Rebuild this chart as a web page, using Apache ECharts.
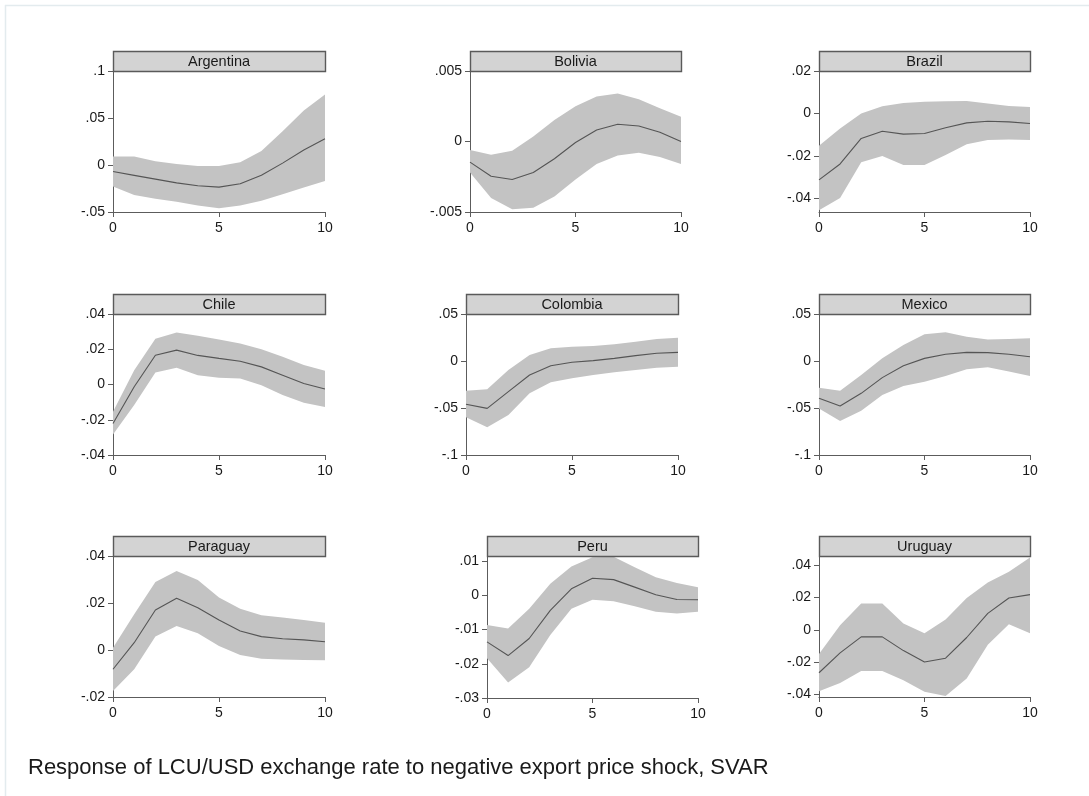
<!DOCTYPE html>
<html>
<head>
<meta charset="utf-8">
<title>Response of LCU/USD exchange rate to negative export price shock, SVAR</title>
<script src="https://cdn.jsdelivr.net/npm/echarts@6.0.0/dist/echarts.min.js"></script>
<style>
  html, body { margin: 0; padding: 0; background: #ffffff; }
  #chart { width: 1089px; height: 796px; }
</style>
</head>
<body>
<div id="chart"></div>
<script>
// Horizon (periods after the shock)
const steps = [0, 1, 2, 3, 4, 5, 6, 7, 8, 9, 10];
const xTicks = [0, 5, 10];

const countries = ['Argentina', 'Bolivia', 'Brazil', 'Chile', 'Colombia', 'Mexico', 'Paraguay', 'Peru', 'Uruguay'];

// Impulse responses with lower / upper confidence bands
const irfArgentina   = [-0.007, -0.011, -0.015, -0.019, -0.022, -0.0235, -0.020, -0.011, 0.002, 0.016, 0.028];
const lowerArgentina = [-0.023, -0.032, -0.036, -0.039, -0.043, -0.046, -0.043, -0.038, -0.031, -0.024, -0.017];
const upperArgentina = [0.009, 0.009, 0.004, 0.001, -0.001, -0.001, 0.003, 0.015, 0.036, 0.058, 0.075];

const irfBolivia   = [-0.00146, -0.00247, -0.0027, -0.0022, -0.00122, -0.00007, 0.00082, 0.00122, 0.0011, 0.00066, 0.0];
const lowerBolivia = [-0.0022, -0.0040, -0.0048, -0.0047, -0.0039, -0.0027, -0.0016, -0.0010, -0.0008, -0.0011, -0.0016];
const upperBolivia = [-0.0006, -0.00094, -0.00066, 0.00035, 0.00153, 0.0025, 0.0032, 0.0034, 0.0030, 0.00235, 0.00176];

const irfBrazil   = [-0.0312, -0.0237, -0.0117, -0.0083, -0.0097, -0.0094, -0.0067, -0.0044, -0.0036, -0.0039, -0.0047];
const lowerBrazil = [-0.0455, -0.0397, -0.0229, -0.0200, -0.0242, -0.0242, -0.0195, -0.0145, -0.0125, -0.0122, -0.0125];
const upperBrazil = [-0.0151, -0.0070, 0.0, 0.0034, 0.0050, 0.0055, 0.0058, 0.0059, 0.0047, 0.0036, 0.0031];

const irfChile   = [-0.0221, -0.0013, 0.0166, 0.0195, 0.0165, 0.0148, 0.0132, 0.0100, 0.0053, 0.0006, -0.0026];
const lowerChile = [-0.0284, -0.0117, 0.0068, 0.0095, 0.0053, 0.0038, 0.0034, -0.0004, -0.0060, -0.0104, -0.0127];
const upperChile = [-0.0155, 0.0081, 0.0260, 0.0295, 0.0276, 0.0255, 0.0233, 0.0200, 0.0157, 0.0110, 0.0078];

const irfColombia   = [-0.0461, -0.0504, -0.0326, -0.0149, -0.0050, -0.0014, 0.0004, 0.0028, 0.0057, 0.0082, 0.0092];
const lowerColombia = [-0.0599, -0.0706, -0.0574, -0.0344, -0.0227, -0.0184, -0.0149, -0.0121, -0.0096, -0.0071, -0.0060];
const upperColombia = [-0.0316, -0.0301, -0.0096, 0.0064, 0.0135, 0.0152, 0.0160, 0.0177, 0.0206, 0.0234, 0.0248];

const irfMexico   = [-0.0397, -0.0479, -0.0344, -0.0177, -0.0050, 0.0028, 0.0071, 0.0092, 0.0089, 0.0071, 0.0046];
const lowerMexico = [-0.0504, -0.0638, -0.0528, -0.0362, -0.0266, -0.0220, -0.0160, -0.0089, -0.0067, -0.0113, -0.0160];
const upperMexico = [-0.0284, -0.0316, -0.0149, 0.0028, 0.0170, 0.0284, 0.0305, 0.0259, 0.0230, 0.0234, 0.0241];

const irfParaguay   = [-0.0082, 0.0031, 0.0170, 0.0220, 0.0180, 0.0128, 0.0081, 0.0057, 0.0048, 0.0043, 0.0035];
const lowerParaguay = [-0.0174, -0.0082, 0.0057, 0.0102, 0.0071, 0.0017, -0.0021, -0.0037, -0.0040, -0.0043, -0.0044];
const upperParaguay = [0.0010, 0.0152, 0.0289, 0.0336, 0.0298, 0.0223, 0.0176, 0.0148, 0.0138, 0.0128, 0.0116];

const irfPeru   = [-0.0136, -0.0176, -0.0126, -0.0044, 0.0019, 0.0050, 0.0046, 0.0024, 0.0002, -0.0012, -0.0013];
const lowerPeru = [-0.0184, -0.0255, -0.0210, -0.0116, -0.0039, -0.0013, -0.0017, -0.0032, -0.0048, -0.0053, -0.0048];
const upperPeru = [-0.0087, -0.0097, -0.0039, 0.0034, 0.0084, 0.0111, 0.0113, 0.0082, 0.0053, 0.0036, 0.0024];

const irfUruguay   = [-0.0265, -0.0142, -0.0043, -0.0043, -0.0128, -0.0199, -0.0175, -0.0047, 0.0102, 0.0197, 0.0218];
const lowerUruguay = [-0.0379, -0.0328, -0.0254, -0.0254, -0.0311, -0.0383, -0.0409, -0.0301, -0.0092, 0.0035, -0.0020];
const upperUruguay = [-0.0149, 0.0028, 0.0163, 0.0163, 0.0039, -0.0020, 0.0065, 0.0197, 0.0293, 0.0360, 0.0448];

// Y tick labels of each panel
const yTicksArgentina = [-0.05, 0, 0.05, 0.1];
const yTicksBolivia   = [-0.005, 0, 0.005];
const yTicksBrazil    = [-0.04, -0.02, 0, 0.02];
const yTicksChile     = [-0.04, -0.02, 0, 0.02, 0.04];
const yTicksColombia  = [-0.1, -0.05, 0, 0.05];
const yTicksMexico    = [-0.1, -0.05, 0, 0.05];
const yTicksParaguay  = [-0.02, 0, 0.02, 0.04];
const yTicksPeru      = [-0.03, -0.02, -0.01, 0, 0.01];
const yTicksUruguay   = [-0.04, -0.02, 0, 0.02, 0.04];

const caption = 'Response of LCU/USD exchange rate to negative export price shock, SVAR';

const panelData = {
  Argentina: { irf: irfArgentina, lo: lowerArgentina, hi: upperArgentina, ticks: yTicksArgentina },
  Bolivia:   { irf: irfBolivia,   lo: lowerBolivia,   hi: upperBolivia,   ticks: yTicksBolivia },
  Brazil:    { irf: irfBrazil,    lo: lowerBrazil,    hi: upperBrazil,    ticks: yTicksBrazil },
  Chile:     { irf: irfChile,     lo: lowerChile,     hi: upperChile,     ticks: yTicksChile },
  Colombia:  { irf: irfColombia,  lo: lowerColombia,  hi: upperColombia,  ticks: yTicksColombia },
  Mexico:    { irf: irfMexico,    lo: lowerMexico,    hi: upperMexico,    ticks: yTicksMexico },
  Paraguay:  { irf: irfParaguay,  lo: lowerParaguay,  hi: upperParaguay,  ticks: yTicksParaguay },
  Peru:      { irf: irfPeru,      lo: lowerPeru,      hi: upperPeru,      ticks: yTicksPeru },
  Uruguay:   { irf: irfUruguay,   lo: lowerUruguay,   hi: upperUruguay,   ticks: yTicksUruguay }
};

// Plot-region geometry (px) and y-axis range of each panel
const layout = {
  Argentina: { left: 113, top: 71,  width: 212, height: 141, min: -0.05,   max: 0.1 },
  Bolivia:   { left: 470, top: 71,  width: 211, height: 141, min: -0.005,  max: 0.005 },
  Brazil:    { left: 819, top: 71,  width: 211, height: 141, min: -0.0463, max: 0.02 },
  Chile:     { left: 113, top: 314, width: 212, height: 141, min: -0.04,   max: 0.04 },
  Colombia:  { left: 466, top: 314, width: 212, height: 141, min: -0.1,    max: 0.05 },
  Mexico:    { left: 819, top: 314, width: 211, height: 141, min: -0.1,    max: 0.05 },
  Paraguay:  { left: 113, top: 556, width: 212, height: 141, min: -0.02,   max: 0.04 },
  Peru:      { left: 487, top: 556, width: 211, height: 142, min: -0.03,   max: 0.0115 },
  Uruguay:   { left: 819, top: 556, width: 211, height: 141, min: -0.0415, max: 0.0457 }
};

const FONT = '"Liberation Sans", Arial, Helvetica, sans-serif';
const AXIS_COLOR = '#5c5c5c';
const BAND_COLOR = '#c3c3c3';
const LINE_COLOR = '#555555';
const HEADER_H = 20;

function fmt(v) {
  const s = parseFloat(Number(v).toFixed(6)).toString();
  return s.replace(/^(-?)0\./, '$1.');
}

// Confidence band: one polygon through the upper edge and back along the lower edge
function bandRenderer(d) {
  return function (params, api) {
    if (params.dataIndex !== 0) return null;
    const upper = steps.map((s, k) => api.coord([s, d.hi[k]]));
    const lower = steps.map((s, k) => api.coord([s, d.lo[k]])).reverse();
    return {
      type: 'polygon',
      shape: { points: upper.concat(lower) },
      style: { fill: BAND_COLOR, stroke: null },
      silent: true
    };
  };
}

const grids = [], xAxes = [], yAxes = [], series = [], graphics = [];

countries.forEach((name, i) => {
  const g = layout[name];
  const d = panelData[name];

  grids.push({ left: g.left, top: g.top, width: g.width, height: g.height, containLabel: false });

  xAxes.push({
    type: 'value', gridIndex: i, min: 0, max: 10, interval: 5,
    axisLine: { show: true, onZero: false, lineStyle: { color: AXIS_COLOR, width: 1 } },
    axisTick: { show: true, length: 5, lineStyle: { color: AXIS_COLOR } },
    axisLabel: { show: true, margin: 9, fontSize: 14, color: '#1a1a1a', fontFamily: FONT,
                 customValues: xTicks, formatter: v => String(v) },
    splitLine: { show: false }
  });

  yAxes.push({
    type: 'value', gridIndex: i, min: g.min, max: g.max,
    axisLine: { show: true, onZero: false, lineStyle: { color: AXIS_COLOR, width: 1 } },
    axisTick: { show: true, length: 5, customValues: d.ticks, lineStyle: { color: AXIS_COLOR } },
    axisLabel: { show: true, margin: 8, fontSize: 14, color: '#1a1a1a', fontFamily: FONT,
                 customValues: d.ticks, formatter: fmt },
    splitLine: { show: false }
  });

  series.push({
    type: 'custom', xAxisIndex: i, yAxisIndex: i, silent: true, z: 1,
    data: steps.map((s, k) => [s, d.lo[k], d.hi[k]]),
    encode: { x: 0, y: [1, 2] },
    renderItem: bandRenderer(d)
  });
  // point estimate
  series.push({
    type: 'line', xAxisIndex: i, yAxisIndex: i, name: name,
    data: steps.map((s, k) => [s, d.irf[k]]),
    symbol: 'none', silent: true, lineStyle: { color: LINE_COLOR, width: 1.1 }, z: 3
  });

  // panel title strip
  graphics.push({
    type: 'rect', silent: true, z: 10,
    shape: { x: g.left + 0.5, y: g.top - HEADER_H + 0.5, width: g.width, height: HEADER_H },
    style: { fill: '#d3d3d3', stroke: '#5a5a5a', lineWidth: 1.4 }
  });
  graphics.push({
    type: 'text', silent: true, z: 11,
    x: g.left + g.width / 2, y: g.top - HEADER_H / 2 + 0.5,
    style: { text: name, fill: '#1a1a1a', font: '14.5px ' + FONT, textAlign: 'center', textVerticalAlign: 'middle' }
  });
});

// light frame along the top and left edges
graphics.push({ type: 'line', silent: true, shape: { x1: 5, y1: 5.5, x2: 1089, y2: 5.5 }, style: { stroke: '#e3ebee', lineWidth: 1.5 } });
graphics.push({ type: 'line', silent: true, shape: { x1: 5.5, y1: 5, x2: 5.5, y2: 796 }, style: { stroke: '#e3ebee', lineWidth: 1.5 } });

// figure caption
graphics.push({
  type: 'text', silent: true, x: 28, y: 768,
  style: { text: caption, fill: '#1a1a1a', font: '22px ' + FONT, textAlign: 'left', textVerticalAlign: 'middle' }
});

const chart = echarts.init(document.getElementById('chart'), null, { renderer: 'canvas' });
chart.setOption({
  animation: false,
  backgroundColor: '#ffffff',
  grid: grids,
  xAxis: xAxes,
  yAxis: yAxes,
  series: series,
  graphic: graphics
});
</script>
</body>
</html>
